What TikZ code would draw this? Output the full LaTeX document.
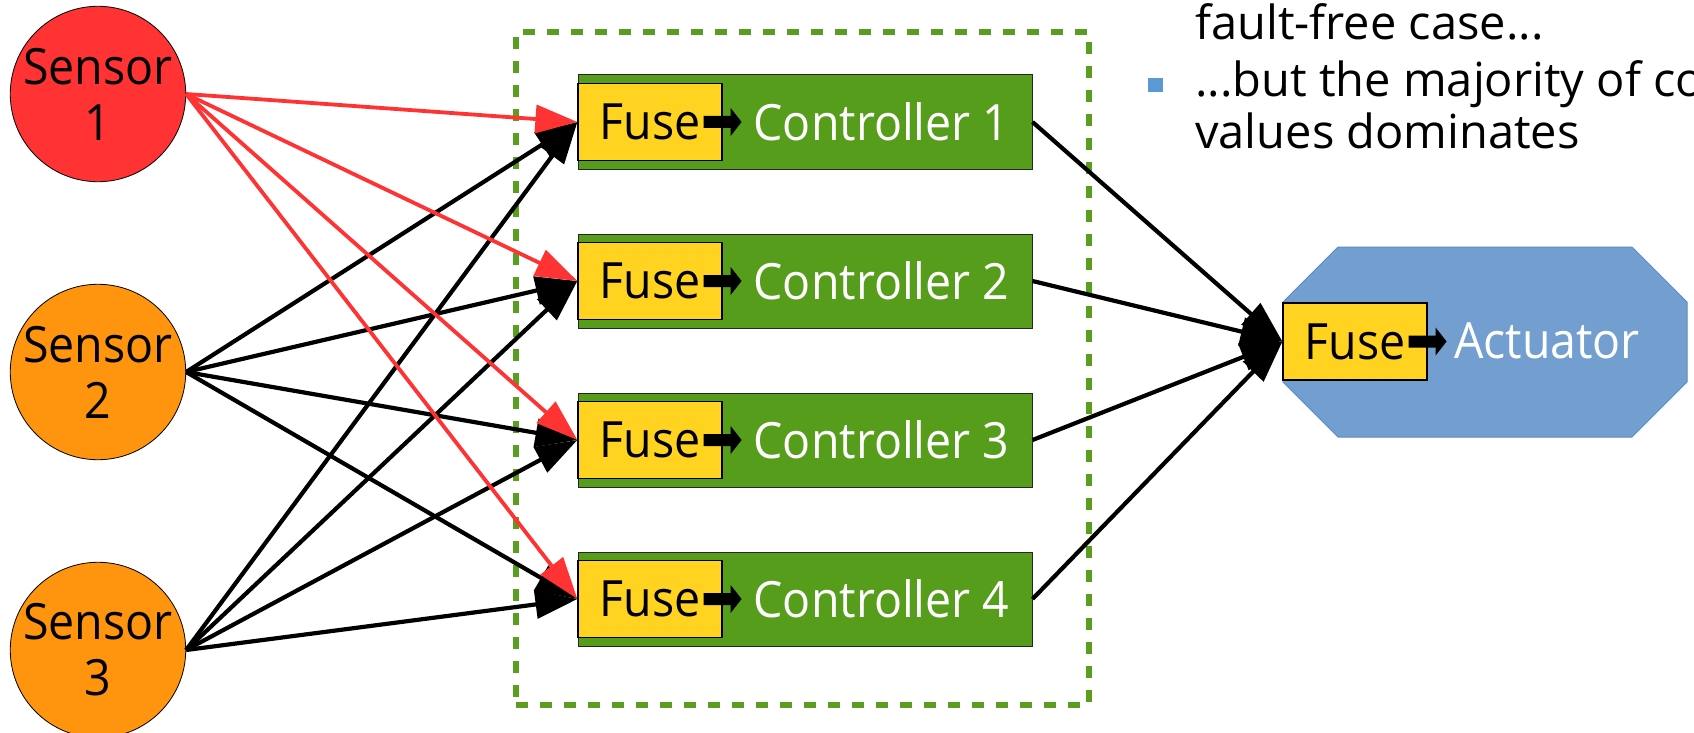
\documentclass[tikz,border=0pt]{standalone}
\usepackage{fontspec}
\setmainfont{Open Sans}
\newfontfamily\diagfont[FakeStretch=0.93]{Open Sans}
\usetikzlibrary{arrows.meta}

\definecolor{sensred}{HTML}{FF3333}
\definecolor{sensorange}{HTML}{FF950E}
\definecolor{fuseyellow}{HTML}{FFD320}
\definecolor{ctrlgreen}{HTML}{579D1C}
\definecolor{groupgreen}{HTML}{5A9E20}
\definecolor{actblue}{HTML}{729FCF}
\definecolor{actedge}{HTML}{5B8AC6}
\definecolor{bulletblue}{HTML}{5A9AD4}

% small block arrow from a fuse into its host block
\newcommand\fusearrow[1]{%
  \fill[black,shift={(#1.east)}] (-19,-6) -- (8,-6) -- (8,-14) -- (19,0)
    -- (8,14) -- (8,6) -- (-19,6) -- cycle;}

\begin{document}
\begin{tikzpicture}[x=1pt,y=-1pt,
  diag/.style={font=\diagfont\fontsize{50}{56}\selectfont},
  sensor/.style={circle, draw=black, line width=0.8pt, minimum size=174pt,
    inner sep=0pt, align=center, diag},
  ctrl/.style={rectangle, draw=black!85, line width=1pt, fill=ctrlgreen,
    minimum width=454pt, minimum height=94pt, inner sep=0pt},
  fuse/.style={rectangle, draw=black, line width=1.2pt, fill=fuseyellow,
    minimum width=144pt, minimum height=77pt, inner sep=0pt, diag},
  wlabel/.style={text=white, inner sep=0pt, anchor=base, diag},
  group/.style={draw=groupgreen, line width=6pt, dash pattern=on 12pt off 12pt,
    minimum width=573pt, minimum height=673pt, inner sep=0pt},
  wire/.style={line width=4.2pt, -{Triangle[length=42pt,width=28pt]}},
  redwire/.style={line width=3.8pt, draw=sensred,
    -{Triangle[length=42pt,width=28pt,fill=sensred]}},
  bullettext/.style={anchor=base west, inner sep=0pt,
    font=\fontsize{47}{54}\selectfont}
]
\useasboundingbox (0,0) rectangle (1694,733);

% grouping frame around the controllers
\node[group] (grp) at (802.5,368.5) {};

% sensors
\node[sensor, fill=sensred]    (s1) at (98,94)  {Sensor\\1};
\node[sensor, fill=sensorange] (s2) at (98,372) {Sensor\\2};
\node[sensor, fill=sensorange] (s3) at (98,650) {Sensor\\3};

% controllers, each with a fuse at its input
\foreach \i/\y in {1/122, 2/281, 3/440, 4/599} {
  \node[ctrl] (c\i) at (805,\y) {};
  \node[fuse] (f\i) at (650,\y) {Fuse};
  \node[wlabel] (t\i) at (881.5,\y+18) {Controller \i};
  \fusearrow{f\i}
}

% actuator
\coordinate (act) at (1485,342);
\fill[actblue, draw=actedge, line width=1pt]
  (1338,247) -- (1632,247) -- (1687,302) -- (1687,382) -- (1632,437)
  -- (1338,437) -- (1283,382) -- (1283,302) -- cycle;
\node[fuse] (fa) at (1355,341.5) {Fuse};
\node[wlabel] (ta) at (1547,358) {Actuator};
\fusearrow{fa}

% sensor 2 and 3 to every controller
\foreach \s in {s2,s3} {
  \foreach \i in {1,2,3,4} {
    \draw[wire] (\s.east) -- (f\i.west);
  }
}
% sensor 1 to every controller
\foreach \i in {1,2,3,4} {
  \draw[redwire] (s1.east) -- (f\i.west);
}

% controllers to actuator
\foreach \i in {1,2,3,4} {
  \draw[wire] (c\i.east) -- (fa.west);
}

% slide text
\node[bullettext] (l1) at (1195,40)  {fault-free case...};
\fill[bulletblue] (1148,78) rectangle (1163,92);
\node[bullettext] (l2) at (1195,97)  {...but the majority of co};
\node[bullettext] (l3) at (1195,148) {values dominates};
\end{tikzpicture}
\end{document}
